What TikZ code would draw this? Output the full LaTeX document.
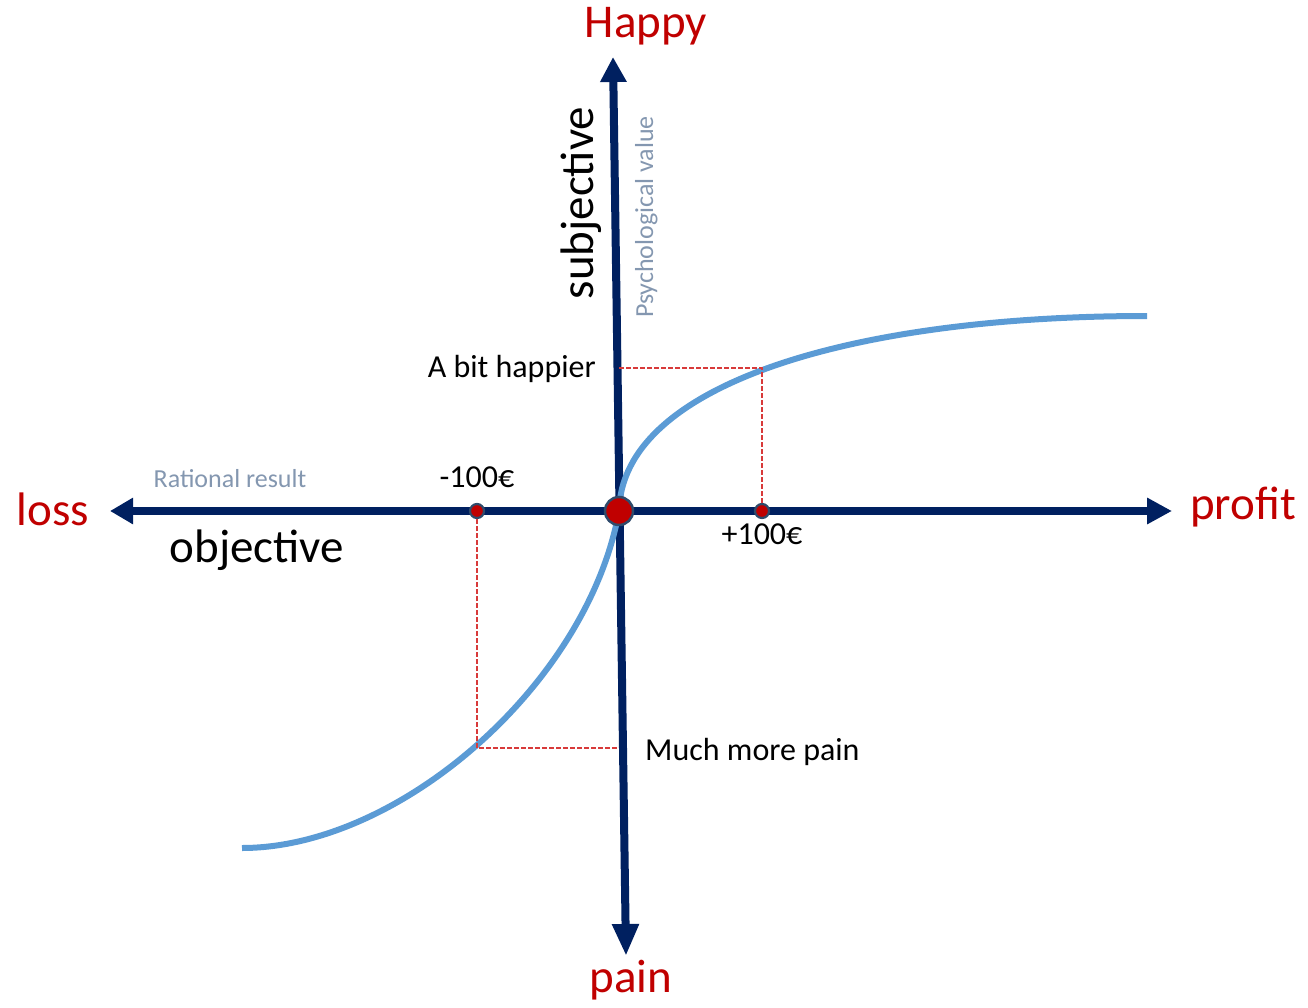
\documentclass[tikz,border=0pt]{standalone}
\usepackage{fontspec}
\setmainfont{Carlito}
\usetikzlibrary{arrows.meta}
\definecolor{navy}{HTML}{002060}
\definecolor{darkred}{HTML}{C00000}
\definecolor{curveblue}{HTML}{5B9BD5}
\definecolor{grayblue}{HTML}{8497B0}
\definecolor{dotborder}{HTML}{2F4B6B}
\definecolor{dashred}{HTML}{D83A3A}
\tikzset{
  axisline/.style={draw=navy, line width=8pt},
  valuecurve/.style={draw=curveblue, line width=6pt},
  guide/.style={draw=dashred, line width=1.4pt, dash pattern=on 4.5pt off 2.5pt},
  bigdot/.style={circle, fill=darkred, draw=dotborder, line width=2.5pt, minimum size=28pt, inner sep=0pt},
  smalldot/.style={circle, fill=darkred, draw=dotborder, line width=2.2pt, minimum size=14pt, inner sep=0pt},
  bigred/.style={text=darkred, font=\fontsize{47}{56}\selectfont, inner sep=0pt, anchor=base},
  bigblack/.style={text=black, font=\fontsize{47}{56}\selectfont, inner sep=0pt, anchor=base},
  hint/.style={text=grayblue, font=\fontsize{26}{31}\selectfont, inner sep=0pt, anchor=base},
  label/.style={text=black, font=\fontsize{32}{38}\selectfont, inner sep=0pt}
}
\begin{document}
\begin{tikzpicture}[x=1pt,y=-1pt]
\useasboundingbox (0,0) rectangle (1308,1008);
% axis ends
\coordinate (L) at (110,511);
\coordinate (R) at (1172,511);
\coordinate (T) at (613,57);
\coordinate (B) at (626,956);
\draw[axisline, {Triangle[length=23pt,width=25pt]}-{Triangle[length=25pt,width=25pt]}] (L) -- (R);
\draw[axisline, {Triangle[length=25pt,width=25pt]}-{Triangle[length=32pt,width=25pt]}] (T) -- (B);
% value curve
\coordinate (O) at (619,511);
\coordinate (cs) at (242,848);
\coordinate (ce) at (1147,316);
\draw[valuecurve] (cs) .. controls (400,848) and (588,683) .. (O)
  .. controls (622,385) and (850,316) .. (ce);
% guide lines
\coordinate (gl) at (477,748);
\coordinate (gly) at (619,748);
\coordinate (gp) at (762,368);
\coordinate (gpy) at (619,368);
% dots
\node[bigdot] (o) at (O) {};
\node[smalldot] (m) at (477,511) {};
\node[smalldot] (p) at (762,511) {};
\draw[guide] (m.south) -- (gl) -- (gly);
\draw[guide] (gpy) -- (gp) -- (p.north);
% texts
\node[bigred] (happy) at (646,38) {Happy};
\node[bigred] (pain) at (631,992) {pain};
\node[bigred] (loss) at (53,525) {loss};
\node[bigred] (profit) at (1243,519) {profit};
\node[bigblack] (obj) at (257,562) {objective};
\node[bigblack, rotate=90] (subj) at (593,203) {subjective};
\node[hint, rotate=90] (psy) at (653,217) {Psychological value};
\node[hint] (rat) at (230,487) {Rational result};
\node[label, anchor=base] (m100) at (477,487) {-100€};
\node[label, anchor=base] (p100) at (762,544) {+100€};
\node[label, anchor=base east] (abh) at (596,377) {A bit happier};
\node[label, anchor=base west] (mmp) at (645,760) {Much more pain};
\end{tikzpicture}
\end{document}
